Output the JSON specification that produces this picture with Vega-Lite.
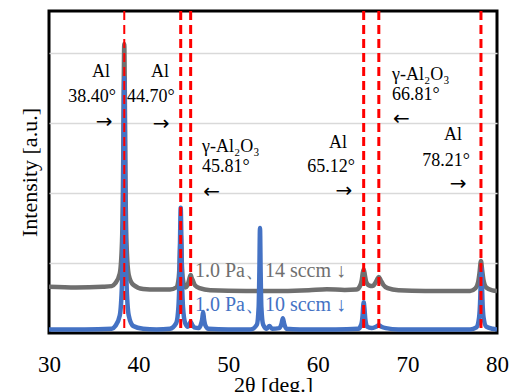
{
  "$schema": "https://vega.github.io/schema/vega-lite/v6.json",
  "width": 448,
  "height": 322,
  "autosize": {"type": "none"},
  "padding": {"left": 49, "top": 11, "right": 13, "bottom": 59},
  "config": {
    "font": "Liberation Serif",
    "view": {"stroke": "#000000", "strokeWidth": 3},
    "text": {"font": "Liberation Serif"},
    "axis": {"titleFontWeight": "normal", "titleColor": "#000000", "labelColor": "#000000", "labelFont": "Liberation Serif", "titleFont": "Liberation Serif"}
  },
  "datasets": {
    "xrd": [
      {"s": "14 sccm", "x": 30, "y": 0.66}, {"s": "14 sccm", "x": 33, "y": 0.65}, {"s": "14 sccm", "x": 36, "y": 0.66}, {"s": "14 sccm", "x": 37, "y": 0.67},
      {"s": "14 sccm", "x": 37.4, "y": 0.71}, {"s": "14 sccm", "x": 37.9, "y": 0.85}, {"s": "14 sccm", "x": 38.15, "y": 1.31}, {"s": "14 sccm", "x": 38.28, "y": 2.4},
      {"s": "14 sccm", "x": 38.35, "y": 3.62}, {"s": "14 sccm", "x": 38.4, "y": 4.13}, {"s": "14 sccm", "x": 38.45, "y": 3.61}, {"s": "14 sccm", "x": 38.52, "y": 2.38},
      {"s": "14 sccm", "x": 38.65, "y": 1.29}, {"s": "14 sccm", "x": 38.9, "y": 0.83}, {"s": "14 sccm", "x": 39.4, "y": 0.69}, {"s": "14 sccm", "x": 40.5, "y": 0.63},
      {"s": "14 sccm", "x": 42, "y": 0.62}, {"s": "14 sccm", "x": 43.5, "y": 0.62}, {"s": "14 sccm", "x": 44.2, "y": 0.65}, {"s": "14 sccm", "x": 44.45, "y": 0.76},
      {"s": "14 sccm", "x": 44.58, "y": 1.01}, {"s": "14 sccm", "x": 44.65, "y": 1.29}, {"s": "14 sccm", "x": 44.7, "y": 1.41}, {"s": "14 sccm", "x": 44.75, "y": 1.29},
      {"s": "14 sccm", "x": 44.82, "y": 1.01}, {"s": "14 sccm", "x": 44.95, "y": 0.76}, {"s": "14 sccm", "x": 45.2, "y": 0.65}, {"s": "14 sccm", "x": 45.45, "y": 0.68},
      {"s": "14 sccm", "x": 45.6, "y": 0.74}, {"s": "14 sccm", "x": 45.7, "y": 0.79}, {"s": "14 sccm", "x": 45.81, "y": 0.83}, {"s": "14 sccm", "x": 45.92, "y": 0.79},
      {"s": "14 sccm", "x": 46.05, "y": 0.75}, {"s": "14 sccm", "x": 46.3, "y": 0.68}, {"s": "14 sccm", "x": 46.8, "y": 0.64}, {"s": "14 sccm", "x": 48, "y": 0.61},
      {"s": "14 sccm", "x": 52, "y": 0.6}, {"s": "14 sccm", "x": 56, "y": 0.6}, {"s": "14 sccm", "x": 59, "y": 0.61}, {"s": "14 sccm", "x": 61, "y": 0.625},
      {"s": "14 sccm", "x": 63, "y": 0.615}, {"s": "14 sccm", "x": 64.3, "y": 0.62}, {"s": "14 sccm", "x": 64.7, "y": 0.67}, {"s": "14 sccm", "x": 64.9, "y": 0.75},
      {"s": "14 sccm", "x": 65.0, "y": 0.84}, {"s": "14 sccm", "x": 65.12, "y": 0.91}, {"s": "14 sccm", "x": 65.25, "y": 0.83}, {"s": "14 sccm", "x": 65.4, "y": 0.73},
      {"s": "14 sccm", "x": 65.7, "y": 0.68}, {"s": "14 sccm", "x": 66.1, "y": 0.67}, {"s": "14 sccm", "x": 66.4, "y": 0.71}, {"s": "14 sccm", "x": 66.6, "y": 0.76},
      {"s": "14 sccm", "x": 66.81, "y": 0.8}, {"s": "14 sccm", "x": 67.0, "y": 0.76}, {"s": "14 sccm", "x": 67.3, "y": 0.69}, {"s": "14 sccm", "x": 67.8, "y": 0.64},
      {"s": "14 sccm", "x": 69, "y": 0.61}, {"s": "14 sccm", "x": 72, "y": 0.6}, {"s": "14 sccm", "x": 75, "y": 0.6}, {"s": "14 sccm", "x": 77, "y": 0.6},
      {"s": "14 sccm", "x": 77.6, "y": 0.64}, {"s": "14 sccm", "x": 77.9, "y": 0.73}, {"s": "14 sccm", "x": 78.05, "y": 0.86}, {"s": "14 sccm", "x": 78.21, "y": 1.03},
      {"s": "14 sccm", "x": 78.35, "y": 0.89}, {"s": "14 sccm", "x": 78.5, "y": 0.75}, {"s": "14 sccm", "x": 78.8, "y": 0.65}, {"s": "14 sccm", "x": 79.5, "y": 0.61},
      {"s": "14 sccm", "x": 80, "y": 0.6},
      {"s": "10 sccm", "x": 30, "y": 0.05}, {"s": "10 sccm", "x": 34, "y": 0.05}, {"s": "10 sccm", "x": 37, "y": 0.06}, {"s": "10 sccm", "x": 37.4, "y": 0.1},
      {"s": "10 sccm", "x": 37.9, "y": 0.25}, {"s": "10 sccm", "x": 38.15, "y": 0.72}, {"s": "10 sccm", "x": 38.28, "y": 1.85}, {"s": "10 sccm", "x": 38.35, "y": 3.12},
      {"s": "10 sccm", "x": 38.4, "y": 3.65}, {"s": "10 sccm", "x": 38.45, "y": 3.12}, {"s": "10 sccm", "x": 38.52, "y": 1.85}, {"s": "10 sccm", "x": 38.65, "y": 0.72},
      {"s": "10 sccm", "x": 38.9, "y": 0.25}, {"s": "10 sccm", "x": 39.4, "y": 0.1}, {"s": "10 sccm", "x": 40.5, "y": 0.06}, {"s": "10 sccm", "x": 42, "y": 0.05},
      {"s": "10 sccm", "x": 43.5, "y": 0.06}, {"s": "10 sccm", "x": 44.2, "y": 0.14}, {"s": "10 sccm", "x": 44.45, "y": 0.38}, {"s": "10 sccm", "x": 44.58, "y": 0.92},
      {"s": "10 sccm", "x": 44.65, "y": 1.53}, {"s": "10 sccm", "x": 44.7, "y": 1.79}, {"s": "10 sccm", "x": 44.75, "y": 1.53}, {"s": "10 sccm", "x": 44.82, "y": 0.92},
      {"s": "10 sccm", "x": 44.95, "y": 0.38}, {"s": "10 sccm", "x": 45.2, "y": 0.14}, {"s": "10 sccm", "x": 45.5, "y": 0.09}, {"s": "10 sccm", "x": 45.65, "y": 0.12},
      {"s": "10 sccm", "x": 45.81, "y": 0.16}, {"s": "10 sccm", "x": 45.97, "y": 0.12}, {"s": "10 sccm", "x": 46.2, "y": 0.08}, {"s": "10 sccm", "x": 46.7, "y": 0.07},
      {"s": "10 sccm", "x": 46.95, "y": 0.12}, {"s": "10 sccm", "x": 47.1, "y": 0.2}, {"s": "10 sccm", "x": 47.2, "y": 0.3}, {"s": "10 sccm", "x": 47.3, "y": 0.2},
      {"s": "10 sccm", "x": 47.45, "y": 0.11}, {"s": "10 sccm", "x": 47.8, "y": 0.06}, {"s": "10 sccm", "x": 50, "y": 0.05}, {"s": "10 sccm", "x": 52.5, "y": 0.05},
      {"s": "10 sccm", "x": 53.2, "y": 0.12}, {"s": "10 sccm", "x": 53.4, "y": 0.37}, {"s": "10 sccm", "x": 53.48, "y": 0.87}, {"s": "10 sccm", "x": 53.55, "y": 1.5},
      {"s": "10 sccm", "x": 53.62, "y": 0.87}, {"s": "10 sccm", "x": 53.7, "y": 0.37}, {"s": "10 sccm", "x": 53.9, "y": 0.12}, {"s": "10 sccm", "x": 54.3, "y": 0.06},
      {"s": "10 sccm", "x": 54.6, "y": 0.1}, {"s": "10 sccm", "x": 54.9, "y": 0.06}, {"s": "10 sccm", "x": 55.7, "y": 0.07}, {"s": "10 sccm", "x": 55.95, "y": 0.13},
      {"s": "10 sccm", "x": 56.1, "y": 0.21}, {"s": "10 sccm", "x": 56.25, "y": 0.13}, {"s": "10 sccm", "x": 56.5, "y": 0.06}, {"s": "10 sccm", "x": 58, "y": 0.05},
      {"s": "10 sccm", "x": 62, "y": 0.05}, {"s": "10 sccm", "x": 64.5, "y": 0.06}, {"s": "10 sccm", "x": 64.85, "y": 0.12}, {"s": "10 sccm", "x": 65.0, "y": 0.25},
      {"s": "10 sccm", "x": 65.08, "y": 0.4}, {"s": "10 sccm", "x": 65.12, "y": 0.44}, {"s": "10 sccm", "x": 65.2, "y": 0.36}, {"s": "10 sccm", "x": 65.3, "y": 0.2},
      {"s": "10 sccm", "x": 65.5, "y": 0.09}, {"s": "10 sccm", "x": 66.0, "y": 0.07}, {"s": "10 sccm", "x": 66.5, "y": 0.09}, {"s": "10 sccm", "x": 66.81, "y": 0.11},
      {"s": "10 sccm", "x": 67.1, "y": 0.09}, {"s": "10 sccm", "x": 67.6, "y": 0.07}, {"s": "10 sccm", "x": 69, "y": 0.05}, {"s": "10 sccm", "x": 74, "y": 0.05},
      {"s": "10 sccm", "x": 77, "y": 0.05}, {"s": "10 sccm", "x": 77.7, "y": 0.08}, {"s": "10 sccm", "x": 78.0, "y": 0.22}, {"s": "10 sccm", "x": 78.13, "y": 0.49},
      {"s": "10 sccm", "x": 78.2, "y": 0.8}, {"s": "10 sccm", "x": 78.25, "y": 0.93}, {"s": "10 sccm", "x": 78.3, "y": 0.8}, {"s": "10 sccm", "x": 78.37, "y": 0.49},
      {"s": "10 sccm", "x": 78.5, "y": 0.22}, {"s": "10 sccm", "x": 78.8, "y": 0.09}, {"s": "10 sccm", "x": 79.5, "y": 0.06}, {"s": "10 sccm", "x": 80, "y": 0.05}
    ],
    "peaks": [
      {"pos": 44.70}, {"pos": 45.81}, {"pos": 65.12}, {"pos": 66.81}, {"pos": 78.21}
    ],
    "peakMain": [{"pos": 38.40}],
    "annCenter": [
      {"x": 35.80, "y": 3.657, "t": "Al"}, {"x": 34.80, "y": 3.30, "t": "38.40°"},
      {"x": 42.39, "y": 3.657, "t": "Al"}, {"x": 41.38, "y": 3.30, "t": "44.70°"},
      {"x": 62.25, "y": 2.643, "t": "Al"}, {"x": 61.47, "y": 2.30, "t": "65.12°"},
      {"x": 75.09, "y": 2.757, "t": "Al"}, {"x": 74.31, "y": 2.386, "t": "78.21°"}
    ],
    "annLeft": [
      {"x": 47.08, "y": 2.586, "t": "γ-Al₂O₃"}, {"x": 47.08, "y": 2.30, "t": "45.81°"},
      {"x": 68.28, "y": 3.614, "t": "γ-Al₂O₃"}, {"x": 68.28, "y": 3.329, "t": "66.81°"}
    ],
    "arrows": [
      {"x": 36.14, "y": 2.93, "t": "→"}, {"x": 42.50, "y": 2.90, "t": "→"},
      {"x": 62.92, "y": 1.94, "t": "→"}, {"x": 75.65, "y": 2.04, "t": "→"},
      {"x": 48.14, "y": 1.93, "t": "←"}, {"x": 69.34, "y": 2.97, "t": "←"}
    ],
    "seriesLabels": [
      {"s": "14 sccm", "x": 46.29, "y": 0.80, "t": "1.0 Pa、14 sccm ↓"},
      {"s": "10 sccm", "x": 46.29, "y": 0.314, "t": "1.0 Pa、10 sccm ↓"}
    ]
  },
  "layer": [
    {
      "data": {"name": "xrd"},
      "mark": {"type": "line", "strokeWidth": 4.5, "interpolate": "monotone", "strokeJoin": "round", "clip": true},
      "encoding": {
        "x": {"field": "x", "type": "quantitative", "scale": {"domain": [30, 80], "nice": false},
          "axis": {"values": [30, 40, 50, 60, 70, 80], "ticks": false, "domain": false, "grid": false, "labelFont": "Liberation Serif", "labelFontSize": 23, "labelPadding": 20, "labelFlush": false, "labelOverlap": false, "title": "2θ [deg.]", "titleFont": "Liberation Serif", "titleFontSize": 22, "titlePadding": -2}},
        "y": {"field": "y", "type": "quantitative", "scale": {"domain": [0, 4.6], "nice": false, "zero": false},
          "axis": {"values": [1, 2, 3, 4], "ticks": false, "domain": false, "labels": false, "grid": true, "gridColor": "#d9d9d9", "gridWidth": 1.5, "title": "Intensity [a.u.]", "titleFont": "Liberation Serif", "titleFontSize": 22, "titlePadding": 8}},
        "color": {"field": "s", "type": "nominal", "scale": {"domain": ["14 sccm", "10 sccm"], "range": ["#6f6f6f", "#4472c4"]}, "legend": null},
        "order": {"field": "x", "type": "quantitative"},
        "detail": {"field": "s"}
      }
    },
    {
      "data": {"name": "peaks"},
      "mark": {"type": "rule", "color": "#ff0000", "strokeWidth": 3, "strokeDash": [9, 5]},
      "encoding": {"x": {"field": "pos", "type": "quantitative"}}
    },
    {
      "data": {"name": "peakMain"},
      "mark": {"type": "rule", "color": "#ff0000", "strokeWidth": 2, "strokeDash": [9, 5]},
      "encoding": {"x": {"field": "pos", "type": "quantitative"}}
    },
    {
      "data": {"name": "annCenter"},
      "mark": {"type": "text", "font": "Liberation Serif", "align": "center", "baseline": "alphabetic", "fontSize": 18, "color": "#000000"},
      "encoding": {
        "x": {"field": "x", "type": "quantitative"},
        "y": {"field": "y", "type": "quantitative"},
        "text": {"field": "t"}
      }
    },
    {
      "data": {"name": "annLeft"},
      "mark": {"type": "text", "font": "Liberation Serif", "align": "left", "baseline": "alphabetic", "fontSize": 18, "color": "#000000"},
      "encoding": {
        "x": {"field": "x", "type": "quantitative"},
        "y": {"field": "y", "type": "quantitative"},
        "text": {"field": "t"}
      }
    },
    {
      "data": {"name": "arrows"},
      "mark": {"type": "text", "font": "DejaVu Sans", "align": "center", "baseline": "alphabetic", "fontSize": 20, "color": "#000000"},
      "encoding": {
        "x": {"field": "x", "type": "quantitative"},
        "y": {"field": "y", "type": "quantitative"},
        "text": {"field": "t"}
      }
    },
    {
      "data": {"name": "seriesLabels"},
      "mark": {"type": "text", "font": "Liberation Serif", "align": "left", "baseline": "alphabetic", "fontSize": 20},
      "encoding": {
        "x": {"field": "x", "type": "quantitative"},
        "y": {"field": "y", "type": "quantitative"},
        "text": {"field": "t"},
        "color": {"field": "s", "type": "nominal", "legend": null}
      }
    }
  ]
}
